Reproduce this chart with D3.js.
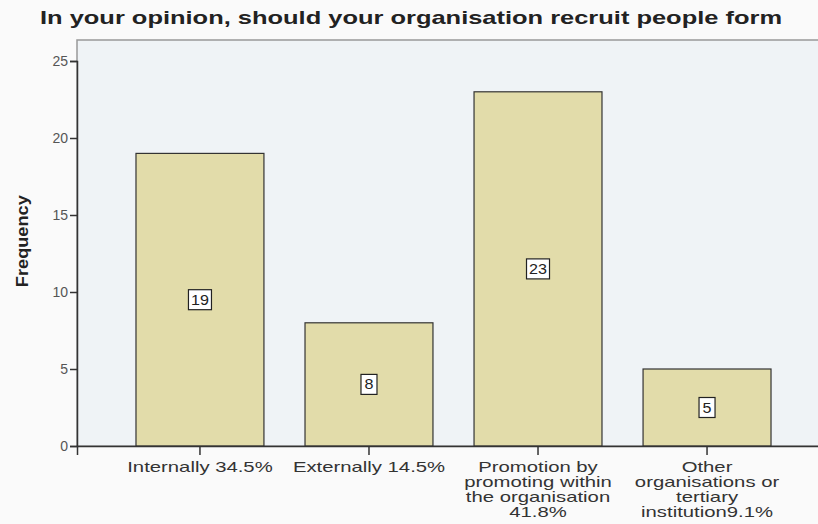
<!DOCTYPE html>
<html>
<head>
<meta charset="utf-8">
<script src="https://cdn.jsdelivr.net/npm/d3@7"></script>
<style>
  body { margin: 0; background: #fafafa; }
  svg { display: block; font-family: "Liberation Sans", Arial, sans-serif; }
</style>
</head>
<body>
<script>
var categories = [
  ["Internally 34.5%"],
  ["Externally 14.5%"],
  ["Promotion by", "promoting within", "the organisation", "41.8%"],
  ["Other", "organisations or", "tertiary", "institution9.1%"]
];
var frequencies = [19, 8, 23, 5];
var yTicks = [0, 5, 10, 15, 20, 25];

var width = 818, height = 524;
var margin = {top: 40, right: -12, bottom: 78, left: 77};
var stretch = 1.45; // the source picture is wider than it is tall

var svg = d3.select("body").append("svg")
  .attr("width", width)
  .attr("height", height);

var x = d3.scaleBand()
  .domain(d3.range(categories.length))
  .range([margin.left, width - margin.right])
  .paddingInner(0.243)
  .paddingOuter(0.349);

var y = d3.scaleLinear()
  .domain([0, 25])
  .range([446, 61]);

// plot background
svg.append("rect")
  .attr("x", margin.left)
  .attr("y", margin.top)
  .attr("width", width - margin.right - margin.left)
  .attr("height", y(0) - margin.top)
  .attr("fill", "#eff3f6")
  .attr("stroke", "#999")
  .attr("stroke-width", 1.5);

// title
svg.append("text")
  .attr("x", 411)
  .attr("y", 24)
  .attr("text-anchor", "middle")
  .attr("font-size", 18.5)
  .attr("font-weight", "bold")
  .attr("fill", "#222")
  .attr("textLength", 742)
  .attr("lengthAdjust", "spacingAndGlyphs")
  .text("In your opinion, should your organisation recruit people form");

// bars
svg.append("g").selectAll("rect")
  .data(frequencies)
  .enter().append("rect")
  .attr("x", function(d, i) { return x(i); })
  .attr("y", function(d) { return y(d); })
  .attr("width", x.bandwidth())
  .attr("height", function(d) { return y(0) - y(d); })
  .attr("fill", "#e2dcaa")
  .attr("stroke", "#333")
  .attr("stroke-width", 1.2);

// value labels in boxes
var lab = svg.append("g").selectAll("g")
  .data(frequencies)
  .enter().append("g")
  .attr("transform", function(d, i) {
    return "translate(" + (x(i) + x.bandwidth() / 2) + "," + y(d / 2) + ")";
  });

lab.append("rect")
  .attr("x", function(d) { return d >= 10 ? -11.5 : -8; })
  .attr("y", -10)
  .attr("width", function(d) { return d >= 10 ? 23 : 16; })
  .attr("height", 20)
  .attr("fill", "#fff")
  .attr("stroke", "#222")
  .attr("stroke-width", 1.2);

lab.append("text")
  .attr("text-anchor", "middle")
  .attr("dy", "0.36em")
  .attr("font-size", 14)
  .attr("fill", "#222")
  .attr("transform", "scale(1.15,1)")
  .text(function(d) { return d; });

// y axis
var yAxis = svg.append("g")
  .attr("transform", "translate(" + margin.left + ",0)")
  .call(d3.axisLeft(y).tickValues(yTicks).tickSize(7).tickPadding(2));
yAxis.select(".domain").attr("stroke", "#333").attr("stroke-width", 1.5);
yAxis.selectAll(".tick line").attr("stroke", "#333").attr("stroke-width", 1.5);
yAxis.selectAll(".tick text")
  .attr("font-size", 14)
  .attr("fill", "#555")
  .attr("font-family", "Liberation Sans, Arial, sans-serif");

// x axis
var xAxis = svg.append("g")
  .attr("transform", "translate(0," + y(0) + ")")
  .call(d3.axisBottom(x).tickSize(9).tickFormat(""));
xAxis.select(".domain").attr("stroke", "#333").attr("stroke-width", 1.5);
xAxis.selectAll(".tick line").attr("stroke", "#333").attr("stroke-width", 1.5);

xAxis.selectAll(".tick").append("text")
  .attr("text-anchor", "middle")
  .attr("font-size", 14)
  .attr("fill", "#333")
  .attr("font-family", "Liberation Sans, Arial, sans-serif")
  .attr("transform", "scale(" + stretch + ",1)")
  .selectAll("tspan")
  .data(function(d) { return categories[d]; })
  .enter().append("tspan")
  .attr("x", 0)
  .attr("y", function(d, i) { return 26 + i * 15; })
  .text(function(d) { return d; });

// y label
svg.append("text")
  .attr("transform", "translate(28," + y(13.3) + ") rotate(-90)")
  .attr("text-anchor", "middle")
  .attr("font-size", 17)
  .attr("font-weight", "bold")
  .attr("fill", "#222")
  .attr("textLength", 92)
  .attr("lengthAdjust", "spacingAndGlyphs")
  .text("Frequency");
</script>
</body>
</html>
